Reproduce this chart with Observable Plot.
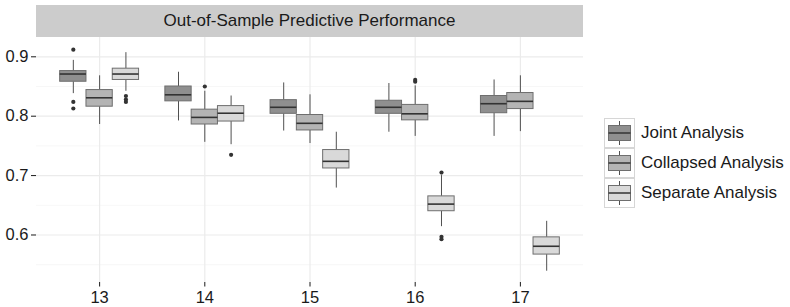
<!DOCTYPE html>
<html>
<head>
<meta charset="utf-8">
<script src="https://cdn.jsdelivr.net/npm/d3@7"></script>
<script src="https://cdn.jsdelivr.net/npm/@observablehq/plot@0.6"></script>
<style>
  html, body { margin: 0; padding: 0; background: #fff; }
  #wrap { position: relative; width: 790px; height: 307px; font-family: "Liberation Sans", Arial, sans-serif; }
  #strip { position: absolute; left: 36px; top: 5px; width: 547px; height: 32px; background: #cccccc;
           display: flex; align-items: center; justify-content: center; font-size: 17px; color: #1a1a1a; }
  #legend { position: absolute; left: 604px; top: 118px; }
  .row { display: flex; align-items: center; height: 30px; }
  .key { width: 29px; height: 28px; border: 1px solid #d6d6d6; background: #fff; margin-right: 6px; }
  .lab { font-size: 17px; color: #1a1a1a; white-space: nowrap; }
</style>
</head>
<body>
<div id="wrap">
  <div id="chart"></div>
  <div id="strip"></div>
  <div id="legend"></div>
</div>
<script>
const title = "Out-of-Sample Predictive Performance";
const categories = [13, 14, 15, 16, 17];
const series = ["Joint Analysis", "Collapsed Analysis", "Separate Analysis"];
const fills = ["#8f8f8f", "#b4b4b4", "#d9d9d9"];
const yMajor = [0.6, 0.7, 0.8, 0.9];
const yMinor = [0.55, 0.65, 0.75, 0.85];

// per category: [lower whisker, q1, median, q3, upper whisker]
const jointStats = [
  [0.838, 0.858, 0.871, 0.876, 0.894],
  [0.792, 0.825, 0.836, 0.850, 0.874],
  [0.775, 0.804, 0.815, 0.827, 0.856],
  [0.773, 0.804, 0.815, 0.826, 0.855],
  [0.766, 0.805, 0.821, 0.834, 0.861]
];
const collapsedStats = [
  [0.786, 0.816, 0.831, 0.844, 0.868],
  [0.756, 0.786, 0.798, 0.811, 0.842],
  [0.754, 0.776, 0.788, 0.802, 0.836],
  [0.766, 0.793, 0.804, 0.819, 0.851],
  [0.774, 0.812, 0.825, 0.839, 0.868]
];
const separateStats = [
  [0.842, 0.861, 0.871, 0.880, 0.907],
  [0.752, 0.791, 0.805, 0.817, 0.834],
  [0.679, 0.712, 0.724, 0.743, 0.773],
  [0.614, 0.640, 0.652, 0.665, 0.700],
  [0.539, 0.567, 0.581, 0.596, 0.623]
];
// outliers: [category, series index, value]
const outliers = [
  [13, 0, 0.912], [13, 0, 0.824], [13, 0, 0.813],
  [13, 2, 0.834], [13, 2, 0.828], [13, 2, 0.824],
  [14, 1, 0.850], [14, 2, 0.735],
  [16, 1, 0.861], [16, 1, 0.858],
  [16, 2, 0.705], [16, 2, 0.597], [16, 2, 0.593]
];

const offsets = [-0.25, 0, 0.25];
const half = 0.125;

const allStats = [jointStats, collapsedStats, separateStats];
const boxes = [];
allStats.forEach((st, si) => {
  st.forEach((s, ci) => {
    boxes.push({cat: categories[ci], s: series[si], pos: categories[ci] + offsets[si],
      lo: s[0], q1: s[1], med: s[2], q3: s[3], hi: s[4]});
  });
});
const outs = outliers.map(([c, si, v]) => ({pos: c + offsets[si], s: series[si], v}));

const plot = Plot.plot({
  width: 790,
  height: 307,
  marginLeft: 36,
  marginRight: 207,
  marginTop: 37,
  marginBottom: 25,
  style: {fontFamily: "Liberation Sans, Arial, sans-serif", fontSize: "16.5px", color: "#1a1a1a", background: "#fff"},
  x: {domain: [12.4, 17.6], ticks: categories, tickFormat: d => String(d), tickSize: 4.5, tickPadding: 4, label: null},
  y: {domain: [0.52, 0.9325], ticks: yMajor, tickFormat: d3.format(".1f"), tickSize: 5, tickPadding: 3, label: null},
  color: {domain: series, range: fills},
  marks: [
    Plot.ruleY(yMinor, {stroke: "#f3f3f3", strokeWidth: 0.7}),
    Plot.ruleY(yMajor, {stroke: "#ebebeb", strokeWidth: 1.2}),
    Plot.ruleX(categories, {stroke: "#ebebeb", strokeWidth: 1.2}),
    Plot.ruleX(boxes, {x: "pos", y1: "lo", y2: "q1", stroke: "#505050", strokeWidth: 1}),
    Plot.ruleX(boxes, {x: "pos", y1: "q3", y2: "hi", stroke: "#505050", strokeWidth: 1}),
    Plot.rect(boxes, {x1: d => d.pos - half, x2: d => d.pos + half, y1: "q1", y2: "q3", fill: "s", stroke: "#6e6e6e", strokeWidth: 1}),
    Plot.ruleY(boxes, {y: "med", x1: d => d.pos - half, x2: d => d.pos + half, stroke: "#333", strokeWidth: 1.6}),
    Plot.dot(outs, {x: "pos", y: "v", r: 2.1, fill: "#333", stroke: "none"})
  ]
});
document.getElementById("chart").appendChild(plot);
document.getElementById("strip").textContent = title;

const legend = document.getElementById("legend");
series.forEach((name, i) => {
  const row = document.createElement("div");
  row.className = "row";
  row.innerHTML = `<div class="key"><svg width="29" height="28">
    <line x1="14.5" x2="14.5" y1="2" y2="26" stroke="#505050" stroke-width="1"/>
    <rect x="3.5" y="6.5" width="22" height="15" fill="${fills[i]}" stroke="#6e6e6e" stroke-width="1"/>
    <line x1="3.5" x2="25.5" y1="14" y2="14" stroke="#333" stroke-width="1.5"/>
  </svg></div><div class="lab"></div>`;
  row.querySelector(".lab").textContent = name;
  legend.appendChild(row);
});
</script>
</body>
</html>
